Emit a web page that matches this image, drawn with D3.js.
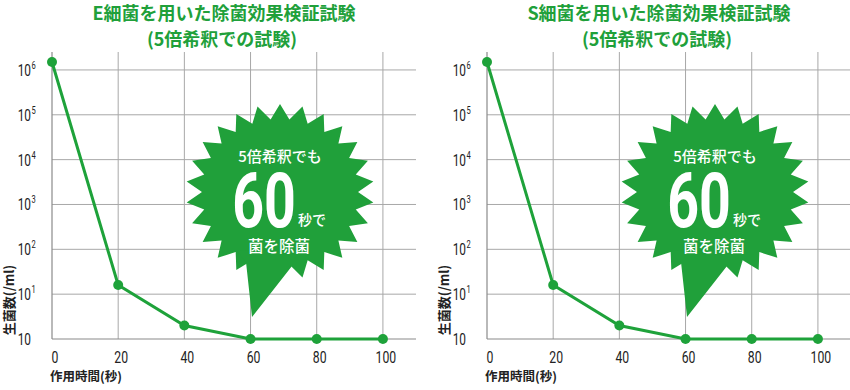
<!DOCTYPE html>
<html><head><meta charset="utf-8">
<script src="https://cdn.jsdelivr.net/npm/d3@7/dist/d3.min.js"></script>
<style>
body{margin:0;background:#fff;}
svg{display:block;}
</style></head>
<body>
<svg id="c" width="850" height="390"></svg>
<script>
// ---- data ----
const times = [0, 20, 40, 60, 80, 100];
const xTicks = [0, 20, 40, 60, 80, 100];
const eCounts = [1500000, 16, 2, 1, 1, 1];
const sCounts = [1500000, 16, 2, 1, 1, 1];
const yTickValues = [1, 10, 100, 1000, 10000, 100000, 1000000];
const yTickBase = ["10", "10", "10", "10", "10", "10", "10"];
const yTickExp = ["", "1", "2", "3", "4", "5", "6"];
const titles1 = ["E細菌を用いた除菌効果検証試験", "S細菌を用いた除菌効果検証試験"];
const title2 = "(5倍希釈での試験)";
const burstText = ["5倍希釈でも", "60", "秒で", "菌を除菌"];
const yLabel = "生菌数(/ml)";
const xLabel = "作用時間(秒)";

const GREEN = "#20a03a";
const LINE = "#1ea23a";
const CJK = "'Noto Sans CJK JP', 'Noto Sans', sans-serif";
const NUM = "Roboto, 'Liberation Sans', sans-serif";

const svg = d3.select("#c");

function drawChart(ox, title, counts) {
  const g = svg.append("g").attr("transform", `translate(${ox},0)`);
  const x = d3.scaleLinear().domain([0, 110]).range([52, 416]);
  const y = d3.scaleLog().domain([1, Math.pow(10, 6.4)]).range([339, 52]);

  // grid
  g.selectAll(".hg").data(yTickValues.slice(1)).join("line")
    .attr("x1", 52).attr("x2", 416)
    .attr("y1", d => y(d)).attr("y2", d => y(d))
    .attr("stroke", "#a8a8a8").attr("stroke-width", 1);
  g.selectAll(".vg").data(xTicks.slice(1)).join("line")
    .attr("x1", d => x(d)).attr("x2", d => x(d))
    .attr("y1", 52).attr("y2", 339)
    .attr("stroke", "#a8a8a8").attr("stroke-width", 1);
  // axes lines
  g.append("line").attr("x1", 52).attr("x2", 52).attr("y1", 52).attr("y2", 339)
    .attr("stroke", "#8a8a8a").attr("stroke-width", 1.2);
  g.append("line").attr("x1", 52).attr("x2", 416).attr("y1", 339).attr("y2", 339)
    .attr("stroke", "#8a8a8a").attr("stroke-width", 1.2);

  // y tick labels
  yTickValues.forEach((v, i) => {
    const yy = y(v);
    g.append("text")
      .attr("transform", `translate(31,${yy + 6}) scale(0.72,1)`)
      .attr("text-anchor", "end")
      .attr("font-family", NUM).attr("font-size", 16.5).attr("fill", "#222")
      .text(yTickBase[i]);
    if (yTickExp[i]) {
      g.append("text")
        .attr("transform", `translate(31.5,${yy - 1}) scale(0.72,1)`)
        .attr("text-anchor", "start")
        .attr("font-family", NUM).attr("font-size", 10.5).attr("fill", "#222")
        .text(yTickExp[i]);
    }
  });
  // x tick labels
  g.selectAll(".xt").data(xTicks).join("text")
    .attr("transform", d => `translate(${x(d) + 3},${363}) scale(0.72,1)`)
    .attr("text-anchor", "middle")
    .attr("font-family", NUM).attr("font-size", 17).attr("fill", "#222")
    .text(d => d);

  // axis titles
  g.append("text")
    .attr("transform", "translate(14,300) rotate(-90)")
    .attr("text-anchor", "middle")
    .attr("font-family", CJK).attr("font-weight", "bold").attr("font-size", 13).attr("fill", "#222")
    .text(yLabel);
  g.append("text")
    .attr("x", 50).attr("y", 381)
    .attr("font-family", CJK).attr("font-weight", "bold").attr("font-size", 12.5).attr("fill", "#222")
    .text(xLabel);

  // titles
  g.append("text").attr("x", 224).attr("y", 12).attr("dominant-baseline", "central")
    .attr("text-anchor", "middle").attr("font-family", CJK).attr("font-weight", "bold")
    .attr("font-size", 18).attr("fill", GREEN).text(title);
  g.append("text").attr("x", 222).attr("y", 38).attr("dominant-baseline", "central")
    .attr("text-anchor", "middle").attr("font-family", CJK).attr("font-weight", "bold")
    .attr("font-size", 18).attr("fill", GREEN).text(title2);

  // starburst (decoration)
  const cx = 280, cy = 192, rx = 94, ry = 88, n = 26, inner = 0.83;
  const pts = [];
  for (let k = 0; k < n * 2; k++) {
    const a = -Math.PI / 2 + k * Math.PI / n;
    const f = k % 2 === 0 ? 1 : inner;
    pts.push([cx + Math.cos(a) * rx * f, cy + Math.sin(a) * ry * f]);
  }
  g.append("path").attr("d", d3.line()(pts) + "Z").attr("fill", GREEN);
  g.append("path").attr("d", d3.line()([[236, 250], [298, 252], [292, 266], [252, 317], [246, 262]]) + "Z").attr("fill", GREEN);

  g.append("text").attr("x", 280).attr("y", 155).attr("dominant-baseline", "central")
    .attr("text-anchor", "middle").attr("font-family", CJK).attr("font-weight", 500)
    .attr("font-size", 15).attr("fill", "#fff").text(burstText[0]);
  g.append("text").attr("transform", "translate(264,227) scale(0.73,1)")
    .attr("text-anchor", "middle").attr("font-family", NUM).attr("font-weight", "bold")
    .attr("font-size", 76).attr("fill", "#fff").text(burstText[1]);
  g.append("text").attr("x", 298).attr("y", 219).attr("dominant-baseline", "central")
    .attr("font-family", CJK).attr("font-weight", 500)
    .attr("font-size", 14).attr("fill", "#fff").text(burstText[2]);
  g.append("text").attr("x", 279).attr("y", 245).attr("dominant-baseline", "central")
    .attr("text-anchor", "middle").attr("font-family", CJK).attr("font-weight", 500)
    .attr("font-size", 15.5).attr("fill", "#fff").text(burstText[3]);

  // line + points
  const line = d3.line().x((d, i) => x(times[i])).y(d => y(d));
  g.append("path").datum(counts).attr("d", line)
    .attr("fill", "none").attr("stroke", LINE).attr("stroke-width", 3);
  g.selectAll(".pt").data(counts).join("circle")
    .attr("cx", (d, i) => x(times[i])).attr("cy", d => y(d)).attr("r", 5)
    .attr("fill", LINE);
}

drawChart(0, titles1[0], eCounts);
drawChart(435, titles1[1], sCounts);
</script>
</body></html>
